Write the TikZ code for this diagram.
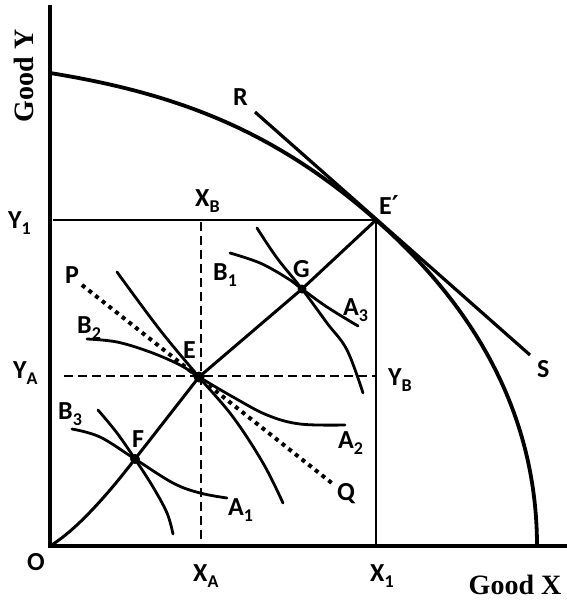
\documentclass[tikz,border=0pt]{standalone}
\usepackage{fontspec}
\setmainfont{Carlito}[BoldFont={Carlito Bold}]
\newfontfamily\axisfont{Liberation Serif}[BoldFont={Liberation Serif Bold}]
\newfontfamily\primefont{DejaVu Sans}
\newcommand\subs[1]{\raisebox{-6pt}{\fontsize{18}{18}\selectfont\bfseries #1}}
\begin{document}
\begin{tikzpicture}[x=1pt,y=-1pt,
  lab/.style={anchor=base west,inner sep=0pt,font=\fontsize{26}{26}\selectfont\bfseries},
  axlab/.style={inner sep=0pt,font=\fontsize{28}{28}\selectfont\axisfont\bfseries},
  axisline/.style={line width=3.2pt},
  boxline/.style={line width=2.8pt},
  curve/.style={line width=2.8pt,line cap=round},
  dashline/.style={line width=2.2pt,dash pattern=on 9pt off 5pt},
  dotline/.style={line width=4pt,dash pattern=on 4pt off 4.5pt},
  dot/.style={circle,fill=black,inner sep=0pt}]
\useasboundingbox (0,0) rectangle (567,602);
% coordinates
\coordinate (O) at (50,546);
\coordinate (Ytop) at (50,5);
\coordinate (Xend) at (567,546);
\coordinate (Fy) at (50,73);
\coordinate (Fx) at (537,546);
\coordinate (Ep) at (376,220);
\coordinate (Y1) at (53,220);
\coordinate (X1) at (376,546);
\coordinate (XAt) at (201,222);
\coordinate (XAb) at (201,546);
\coordinate (YAl) at (64,376);
\coordinate (YAr) at (376,376);
\coordinate (Rend) at (255,112);
\coordinate (Send) at (530,355);
\coordinate (Pend) at (82,285);
\coordinate (Qend) at (333,484);
% axes
\draw[axisline] (Ytop) -- (O) -- (Xend);
% frontier
\draw[line width=3.8pt] (Fy) .. controls (180,94) and (276,132) .. (Ep)
   .. controls (456,290) and (537,396) .. (Fx);
% tangent RS
\draw[line width=3.2pt] (Rend) -- (Send);
% box lines
\draw[boxline] (Y1) -- (Ep) -- (X1);
% dashed
\draw[dashline] (XAt) -- (XAb);
\draw[dashline] (YAl) -- (YAr);
% dotted PQ
\draw[dotline] (Pend) -- (Qend);
% indifference curves
\draw[curve] plot[smooth,tension=0.6] coordinates {(72,429) (100,437) (135,459) (173,483) (200,493) (227,498)};
\draw[curve] plot[smooth,tension=0.6] coordinates {(98,410) (117,433) (135,459) (153,487) (167,513) (173,534)};
\draw[curve] plot[smooth,tension=0.6] coordinates {(87,339) (117,342) (150,352) (180,365) (199,377) (233,397) (267,415) (300,424) (345,425)};
\draw[curve] plot[smooth,tension=0.6] coordinates {(117,272) (160,330) (199,377) (233,417) (263,463) (283,503)};
\draw[curve] plot[smooth,tension=0.6] coordinates {(230,253) (260,263) (287,278) (302,289) (327,307) (358,326)};
\draw[curve] plot[smooth,tension=0.6] coordinates {(257,228) (277,258) (302,289) (327,323) (347,350) (363,393)};
% points
\node[dot,minimum size=10pt] (F) at (135,459) {};
\node[dot,minimum size=11pt] (E) at (199,377) {};
\node[dot,minimum size=9pt] (G) at (302,289) {};
% contract curve
\draw[line width=3pt] (O) .. controls (80,528) and (115,485) .. (F.center) -- (E.center) -- (G.center) -- (Ep);
% labels
\node[axlab,rotate=90,anchor=base] (gy) at (33,76) {Good Y};
\node[axlab,anchor=base] (gx) at (515,594) {Good X};
\node[lab] (lR) at (233,105) {R};
\node[lab] (lS) at (537,377) {S};
\node[lab] (lEp) at (379,214) {E{\primefont\bfseries ′}};
\node[lab] (lY1) at (8,228) {Y\subs{1}};
\node[lab] (lXB) at (195,206) {X\subs{B}};
\node[lab] (lB1) at (213,280) {B\subs{1}};
\node[lab] (lG) at (293,277) {G};
\node[lab] (lA3) at (343,315) {A\subs{3}};
\node[lab] (lP) at (65,283) {P};
\node[lab] (lB2) at (77,333) {B\subs{2}};
\node[lab] (lE) at (183,358) {E};
\node[lab] (lYA) at (13,378) {Y\subs{A}};
\node[lab] (lYB) at (388,385) {Y\subs{B}};
\node[lab] (lB3) at (58,419) {B\subs{3}};
\node[lab] (lF) at (132,447) {F};
\node[lab] (lA2) at (338,448) {A\subs{2}};
\node[lab] (lQ) at (337,500) {Q};
\node[lab] (lA1) at (228,515) {A\subs{1}};
\node[lab] (lO) at (27,570) {O};
\node[lab] (lXA) at (193,581) {X\subs{A}};
\node[lab] (lX1) at (370,581) {X\subs{1}};
\end{tikzpicture}
\end{document}
